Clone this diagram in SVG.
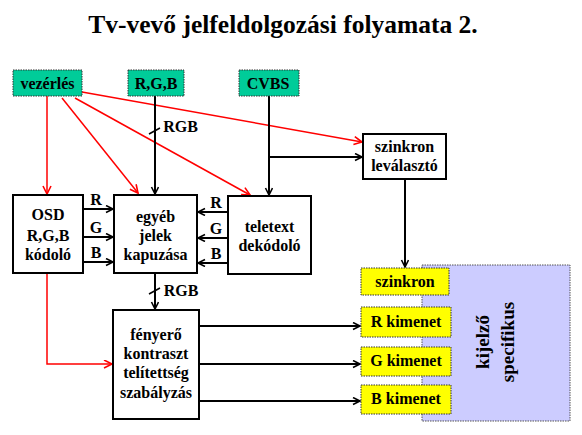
<svg xmlns="http://www.w3.org/2000/svg" width="582" height="435" viewBox="0 0 582 435" font-family="'Liberation Serif', 'DejaVu Serif', serif">
<style>
text{font-family:'Liberation Serif','DejaVu Serif',serif;font-weight:bold;fill:#000;text-anchor:middle}
.t{font-size:16px}
.box{fill:#fff;stroke:#000;stroke-width:2}
.green{fill:#00CC99;stroke:#333;stroke-width:1;stroke-dasharray:1.5 1}
.yellow{fill:#FFFF00;stroke:#333;stroke-width:1;stroke-dasharray:1.5 1}
.purple{fill:#CCCCFF;stroke:#555;stroke-width:1;stroke-dasharray:1.5 1}
.k{stroke:#000;stroke-width:2;fill:none}
.r{stroke:#FF0000;stroke-width:1.5;fill:none}
</style>
<defs>
<marker id="ak" markerWidth="10" markerHeight="10" refX="8" refY="4" orient="auto" markerUnits="userSpaceOnUse">
<path d="M1,0.5 L8,4 L1,7.5" fill="none" stroke="#000" stroke-width="1.6"/>
</marker>
<marker id="ar" markerWidth="12" markerHeight="10" refX="9" refY="4.5" orient="auto" markerUnits="userSpaceOnUse">
<path d="M1,0.5 L9,4.5 L1,8.5" fill="none" stroke="#FF0000" stroke-width="1.6"/>
</marker>
</defs>
<text x="283" y="33" style="font-size:25.5px">Tv-vevő jelfeldolgozási folyamata 2.</text>

<g id="kijelzo-specifikus">
<rect class="purple" x="422" y="265" width="148" height="156"/>
<text class="t" transform="translate(489,342) rotate(-90)" style="font-size:19px">kijelző</text>
<text class="t" transform="translate(514,342) rotate(-90)" style="font-size:19px">specifikus</text>
</g>

<g id="connectors">
<line class="r" x1="47" y1="96" x2="47" y2="194" marker-end="url(#ar)"/>
<line class="r" x1="62" y1="98" x2="138" y2="193" marker-end="url(#ar)"/>
<line class="r" x1="75" y1="98" x2="250" y2="195" marker-end="url(#ar)"/>
<line class="r" x1="82" y1="92" x2="362" y2="142" marker-end="url(#ar)"/>
<polyline class="r" points="47,273 47,364 112,364" marker-end="url(#ar)"/>

<line class="k" x1="155" y1="96" x2="155" y2="194" marker-end="url(#ak)"/>
<line class="k" x1="149" y1="134" x2="160" y2="128" style="stroke-width:1.5"/>
<line class="k" x1="269" y1="96" x2="269" y2="195" marker-end="url(#ak)"/>
<polyline class="k" points="269,157 362,157" marker-end="url(#ak)"/>
<line class="k" x1="405" y1="179" x2="405" y2="267" marker-end="url(#ak)"/>

<line class="k" x1="83" y1="209" x2="113" y2="209" marker-end="url(#ak)"/>
<line class="k" x1="83" y1="237" x2="113" y2="237" marker-end="url(#ak)"/>
<line class="k" x1="83" y1="262" x2="113" y2="262" marker-end="url(#ak)"/>
<line class="k" x1="228" y1="212" x2="198" y2="212" marker-end="url(#ak)"/>
<line class="k" x1="228" y1="238" x2="198" y2="238" marker-end="url(#ak)"/>
<line class="k" x1="228" y1="263" x2="198" y2="263" marker-end="url(#ak)"/>

<line class="k" x1="155" y1="273" x2="155" y2="309" marker-end="url(#ak)"/>
<line class="k" x1="149" y1="294" x2="160" y2="288" style="stroke-width:1.5"/>

<line class="k" x1="199" y1="326" x2="360" y2="326" marker-end="url(#ak)"/>
<line class="k" x1="199" y1="364" x2="360" y2="364" marker-end="url(#ak)"/>
<line class="k" x1="199" y1="401" x2="360" y2="401" marker-end="url(#ak)"/>

<text class="t" x="180.5" y="132">RGB</text>
<text class="t" x="181" y="296">RGB</text>
<text class="t" x="96" y="205">R</text>
<text class="t" x="96" y="233">G</text>
<text class="t" x="96" y="258">B</text>
<text class="t" x="216" y="208">R</text>
<text class="t" x="216" y="234">G</text>
<text class="t" x="216" y="259">B</text>
</g>

<g id="vezerles">
<rect class="green" x="13" y="70" width="69" height="26"/>
<text class="t" x="47.5" y="89">vezérlés</text>
</g>
<g id="rgb-input">
<rect class="green" x="128" y="70" width="56" height="26"/>
<text class="t" x="156" y="89">R,G,B</text>
</g>
<g id="cvbs">
<rect class="green" x="239" y="70" width="60" height="26"/>
<text class="t" x="268" y="89">CVBS</text>
</g>

<g id="szinkron-levalaszto">
<rect class="box" x="363" y="134" width="83" height="45"/>
<text class="t" x="404.5" y="152">szinkron</text>
<text class="t" x="404.5" y="171">leválasztó</text>
</g>

<g id="osd">
<rect class="box" x="13" y="195" width="70" height="78"/>
<text class="t" x="48" y="220">OSD</text>
<text class="t" x="48" y="241">R,G,B</text>
<text class="t" x="48" y="260">kódoló</text>
</g>

<g id="egyeb">
<rect class="box" x="114" y="195" width="83" height="78"/>
<text class="t" x="155.5" y="222">egyéb</text>
<text class="t" x="155.5" y="241">jelek</text>
<text class="t" x="155.5" y="260">kapuzása</text>
</g>

<g id="teletext">
<rect class="box" x="228" y="196" width="83" height="78"/>
<text class="t" x="269.5" y="232">teletext</text>
<text class="t" x="269.5" y="251">dekódoló</text>
</g>

<g id="fenyero">
<rect class="box" x="113" y="310" width="86" height="109"/>
<text class="t" x="156" y="340">fényerő</text>
<text class="t" x="156" y="359">kontraszt</text>
<text class="t" x="156" y="378">telítettség</text>
<text class="t" x="156" y="398">szabályzás</text>
</g>

<g id="szinkron">
<rect class="yellow" x="361" y="268" width="88" height="27"/>
<text class="t" x="405" y="287">szinkron</text>
</g>
<g id="r-kimenet">
<rect class="yellow" x="361" y="307" width="90" height="30"/>
<text class="t" x="406" y="327">R kimenet</text>
</g>
<g id="g-kimenet">
<rect class="yellow" x="361" y="347" width="90" height="29"/>
<text class="t" x="406" y="366">G kimenet</text>
</g>
<g id="b-kimenet">
<rect class="yellow" x="361" y="385" width="90" height="29"/>
<text class="t" x="406" y="404">B kimenet</text>
</g>
</svg>
